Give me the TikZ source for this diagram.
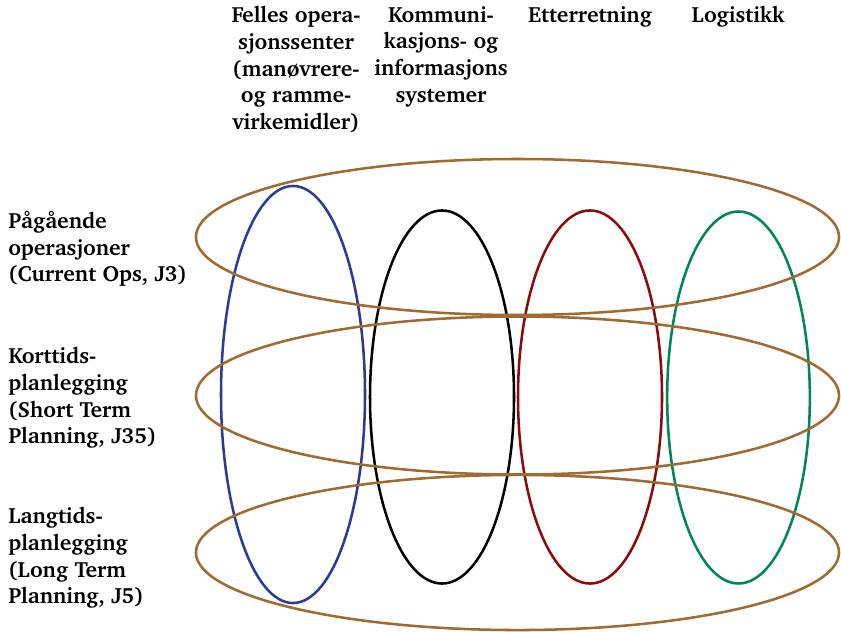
\documentclass[tikz,border=0pt]{standalone}
\usepackage[T1]{fontenc}
\usepackage{charter}
\usetikzlibrary{shapes.geometric}
\definecolor{layerbrown}{RGB}{160,106,48}
\definecolor{jointblue}{RGB}{43,58,152}
\definecolor{commblack}{RGB}{0,0,0}
\definecolor{intelred}{RGB}{140,10,10}
\definecolor{logigreen}{RGB}{0,135,85}
\begin{document}
\begin{tikzpicture}[x=0.75pt,y=-0.75pt,
  ring/.style={ellipse, draw, line width=1.9pt, inner sep=0pt},
  column/.style={ring, minimum width=108pt},
  layer/.style={ring, draw=layerbrown, minimum width=482.3pt},
  label/.style={font=\bfseries\fontsize{16.5}{20}\selectfont, inner sep=0pt}]
\useasboundingbox (0,0) rectangle (841,631);

% functional columns
\node[column, draw=jointblue, minimum height=312.8pt] (joint) at (293,394.5) {};
\node[column, draw=commblack, minimum height=279.8pt] (comm) at (442,397) {};
\node[column, draw=intelred, minimum height=279.8pt] (intel) at (590,397) {};
\node[column, draw=logigreen, minimum height=279pt, minimum width=107pt] (logi) at (738.5,397.5) {};

% planning layers
\node[layer, minimum height=117pt] (current) at (517.5,237) {};
\node[layer, minimum height=118.5pt] (short) at (517.5,395.5) {};
\node[layer, minimum height=116.3pt] (long) at (517.5,552.5) {};

% column headings
\node[label, align=center, anchor=north] (hjoint) at (296,6)
  {Felles opera-\\sjonssenter\\(man\o{}vrere-\\og ramme-\\virkemidler)};
\node[label, align=center, anchor=north] (hcomm) at (441,6)
  {Kommuni-\\kasjons- og\\informasjons\\systemer};
\node[label, align=center, anchor=north] (hintel) at (590,6) {Etterretning};
\node[label, align=center, anchor=north] (hlogi) at (738,6) {Logistikk};

% layer headings
\node[label, align=left, anchor=north west] (lcurrent) at (8,211)
  {P\aa{}g\aa{}ende\\operasjoner\\(Current Ops, J3)};
\node[label, align=left, anchor=north west] (lshort) at (8,347)
  {Korttids-\\planlegging\\(Short Term\\Planning, J35)};
\node[label, align=left, anchor=north west] (llong) at (8,507)
  {Langtids-\\planlegging\\(Long Term\\Planning, J5)};
\end{tikzpicture}
\end{document}
